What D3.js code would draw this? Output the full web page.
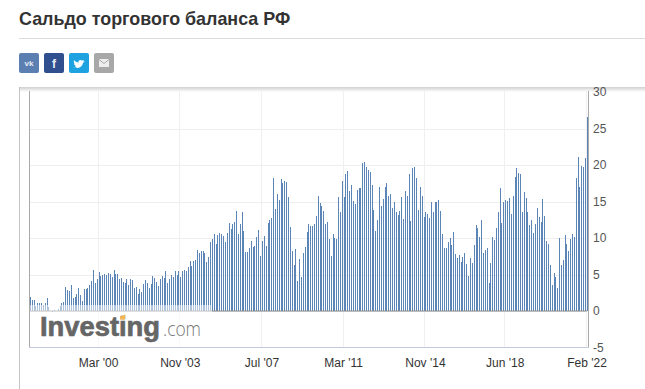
<!DOCTYPE html>
<html>
<head>
<meta charset="utf-8">
<script src="https://cdn.jsdelivr.net/npm/d3@7"></script>
<style>
  html, body { margin: 0; padding: 0; background: #fff; overflow: hidden; }
  svg { display: block; font-family: "Liberation Sans", Arial, sans-serif; }
</style>
</head>
<body>
<svg id="chart" width="645" height="389"></svg>
<script>
const title = 'Сальдо торгового баланса РФ';
const firstMonth = [1997, 1];

// monthly balance, bn USD
const values = [
  1.95, 1.5, 1.5, 0.7, 1.1, 1.1, 1.1, 0.85, 1.05, 1.75, 0.55, -0.05, -0.2, 0.15, 0.02, 0.3, 0.7, 1.05, 1.2, 3.3,
  2.9, 2.7, 3.55, 1.8, 1.9, 2.3, 3.1, 2.2, 1.4, 3.0, 3.0, 3.1, 3.55, 4.1, 5.6, 3.8, 4.4, 5.3, 4.8, 4.9,
  5.05, 4.9, 5.2, 5.05, 4.65, 5.6, 5.05, 5.05, 4.4, 4.5, 3.95, 3.8, 4.4, 3.55, 4.4, 4.2, 3.1, 3.3, 2.3, 3.0,
  2.6, 3.7, 4.2, 3.8, 3.1, 3.7, 4.8, 4.5, 3.95, 3.4, 4.4, 4.8, 4.5, 5.45, 3.8,
  4.4, 4.9, 4.65, 5.5, 4.9, 5.5, 4.65, 5.5, 5.6, 5.5, 6.0, 6.85, 6.15, 6.85, 7.0, 8.35, 7.95, 8.2, 8.2, 7.95,
  6.7, 7.4, 9.45, 9.85, 10.55, 9.2, 10.4, 10.7, 10.55, 10.3, 9.45, 10.7, 12.05, 11.25, 11.9, 12.2, 13.7, 10.55, 11.9, 13.55,
  10.95, 8.1, 8.1, 8.6, 9.6, 8.75, 8.9, 10.15, 11.1, 7.55, 9.6, 10.3, 8.9, 12.05, 12.45, 12.75, 18.2, 14, 16, 15.2,
  18.1, 17.55, 17.8, 17.65, 15.6, 11.5, 8.2, 6.3, 8.5, 4.1, 7.1, 4.65, 7.95, 8.75, 10.8, 11.9, 11.65, 11.65,
  11.9, 13.0, 15.75, 14.8, 14.4, 13.7, 11.9, 12.2, 9.85, 7.55, 10.55, 10, 9.85, 15.55, 13.6, 17.8, 15.6, 18.75, 19.2, 16.4,
  17.25, 15.05, 14.65, 16.6, 16.85, 16.85, 20.3, 20.4, 19.7, 19.3, 19.05, 17.25, 13.85, 10.95, 12.45, 17, 14.4, 15.35, 17, 17.55,
  15.75, 16, 14.1, 14.9, 13.55, 13.15, 13.7, 15.6, 12.6, 16.45, 15.75, 18.75, 12.35, 19.6, 19.7, 18.2, 13.85, 17, 15.75, 12.9,
  13.55, 13.3, 12.75, 14.95, 13.55, 14.95, 14.95, 15.2, 13.7, 10.55, 8.6, 8.6, 9.45, 10, 9.05, 10.8, 7.8, 7.25, 7.65,
  6.7, 7.4, 7.95, 6.45, 4.8, 7.25, 6.6, 9.05, 11.8, 11.35, 10.15, 12.45, 7.95, 8.35, 8.65, 3.85, 6.6, 10.15, 9.7, 11.35,
  13.55, 16.85, 12.05, 14.95, 15.2, 15.05, 15.5, 13.3, 15.75, 18.35, 19.6, 18.9, 18.75, 13.55, 16.3, 15.5, 13.55, 11.8, 12.45, 10.7,
  11.9, 14.1, 12.9, 12.2, 15.35, 13, 9.6, 9.2, 6.3, 3.55, 5.2, 4.65, 3.15, 10, 6.3, 7, 10.4, 9.2, 8.2, 9.85,
  10.55, 10.15, 18.2, 21.1, 17, 19.85, 19.7, 20.95, 26.6
];

const yTicks = [-5, 0, 5, 10, 15, 20, 25, 30];
const xTickDates = [[2000, 2], [2003, 10], [2007, 6], [2011, 2], [2014, 10], [2018, 5], [2022, 1]];
const xTickLabels = ["Mar '00", "Nov '03", "Jul '07", "Mar '11", "Nov '14", "Jun '18", "Feb '22"];

const shareColors = ['#5b7fb1', '#2f4f8e', '#1fa2e0', '#a8a8a8'];

const svg = d3.select('#chart');

const months = values.map(function (d, i) { return new Date(Date.UTC(firstMonth[0], firstMonth[1] + i, 1)); });
const x = d3.scaleUtc().domain([months[0], months[months.length - 1]]).range([30, 587]);
const y = d3.scaleLinear().domain([-5, 30]).range([347.5, 92]);

// page header
svg.append('text')
  .attr('x', 19).attr('y', 25)
  .attr('font-size', 17.9).attr('font-weight', 700).attr('fill', '#333')
  .text(title);

svg.append('line')
  .attr('x1', 19).attr('x2', 645).attr('y1', 38.5).attr('y2', 38.5)
  .attr('stroke', '#ddd');

const share = svg.append('g').attr('transform', 'translate(19,53)');
share.selectAll('rect')
  .data(shareColors)
  .join('rect')
  .attr('x', function (d, i) { return i * 25; })
  .attr('width', 20).attr('height', 20).attr('rx', 2)
  .attr('fill', function (d) { return d; });

share.append('text').attr('x', 10).attr('y', 13).attr('text-anchor', 'middle')
  .attr('font-size', 8).attr('font-weight', 700).attr('fill', '#e8edf5').text('vk');
share.append('text').attr('x', 35).attr('y', 15).attr('text-anchor', 'middle')
  .attr('font-size', 12).attr('font-weight', 700).attr('fill', '#e8edf5').text('f');
share.append('path')
  .attr('transform', 'translate(54,5)')
  .attr('d', 'M0 9c4 2 9 1 10-4l2-2-2 .5L11 2 9 2.500C7 1 5 2.500 5.500 4.500 3.500 4.500 2 3.500 1 2c-.5 1.500 0 3 1 3.500L1 5.300c0 1.300 1 2.400 2 2.700L2 8.100c.4 1 1 1.300 2 1.400C3 10 1.500 10 0 9z')
  .attr('fill', '#fff');
share.append('rect').attr('x', 80).attr('y', 6).attr('width', 10).attr('height', 8).attr('fill', '#eee');
share.append('path').attr('d', 'M80 6.500l5 4 5-4').attr('fill', 'none').attr('stroke', '#a8a8a8');

// chart frame with soft top shadow
const defs = svg.append('defs');
const shadow = defs.append('linearGradient')
  .attr('id', 'topShadow').attr('x1', 0).attr('x2', 0).attr('y1', 0).attr('y2', 1);
shadow.append('stop').attr('offset', 0).attr('stop-color', '#cfcfcf');
shadow.append('stop').attr('offset', 1).attr('stop-color', '#fff');

svg.append('rect').attr('x', 20).attr('y', 87).attr('width', 625).attr('height', 5).attr('fill', 'url(#topShadow)');
svg.append('line').attr('x1', 19.5).attr('x2', 19.5).attr('y1', 87).attr('y2', 389).attr('stroke', '#c4c4c4');

// grid
svg.append('g')
  .selectAll('line')
  .data(yTicks.slice(1, -1))
  .join('line')
  .attr('x1', 30).attr('x2', 587)
  .attr('y1', function (d) { return Math.round(y(d)) + 0.5; })
  .attr('y2', function (d) { return Math.round(y(d)) + 0.5; })
  .attr('stroke', '#eee');

const tickDates = xTickDates.map(function (d) { return new Date(Date.UTC(d[0], d[1], 1)); });
svg.append('g')
  .selectAll('line')
  .data(tickDates)
  .join('line')
  .attr('x1', function (d) { return Math.round(x(d)) - 0.5; })
  .attr('x2', function (d) { return Math.round(x(d)) - 0.5; })
  .attr('y1', 91).attr('y2', 347)
  .attr('stroke', '#f0f0f0');

// bars, snapped to whole pixels so the white gaps stay visible
svg.append('g')
  .attr('shape-rendering', 'crispEdges')
  .selectAll('rect')
  .data(values)
  .join('rect')
  .attr('x', function (d, i) { return Math.round(x(months[i])) - 0.5; })
  .attr('width', 1)
  .attr('y', function (d) { return Math.min(y(d), y(0)); })
  .attr('height', function (d) { return Math.abs(y(d) - y(0)); })
  .attr('fill', '#5a85b6');

svg.append('line')
  .attr('x1', 30).attr('x2', 587).attr('y1', y(0)).attr('y2', y(0))
  .attr('stroke', '#8a8a8a');

// axes
svg.append('line').attr('x1', 29.5).attr('x2', 29.5).attr('y1', 91).attr('y2', 347).attr('stroke', '#aaa');
svg.append('line').attr('x1', 588.5).attr('x2', 588.5).attr('y1', 91).attr('y2', 347).attr('stroke', '#aaa');

// logo sits on a half white box over the bars
svg.append('rect').attr('x', 30).attr('y', 305).attr('width', 182).attr('height', 42)
  .attr('fill', '#fff').attr('fill-opacity', 0.5);

const logo = svg.append('g');
logo.append('text')
  .attr('x', 40).attr('y', 336)
  .attr('font-size', 28).attr('font-weight', 700).attr('fill', '#666')
  .attr('stroke', '#666').attr('stroke-width', 0.7)
  .attr('textLength', 120).attr('lengthAdjust', 'spacingAndGlyphs')
  .text('Investing');
logo.append('text')
  .attr('x', 163).attr('y', 336)
  .attr('font-family', '"Open Sans", sans-serif').attr('font-weight', 300)
  .attr('font-size', 21).attr('fill', '#777')
  .attr('textLength', 38).attr('lengthAdjust', 'spacingAndGlyphs')
  .text('.com');
logo.append('path').attr('d', 'M120.500 316.500l5-2-.5 5h-5z').attr('fill', '#f7b750');

svg.append('line').attr('x1', 29).attr('x2', 589).attr('y1', 347.5).attr('y2', 347.5).attr('stroke', '#c2cbdd');

// tick labels
svg.append('g')
  .selectAll('text')
  .data(yTicks)
  .join('text')
  .attr('x', 593)
  .attr('y', function (d) { return y(d) + 4; })
  .attr('font-size', 12).attr('fill', '#555')
  .text(function (d) { return d; });

svg.append('g')
  .selectAll('text')
  .data(xTickLabels)
  .join('text')
  .attr('x', function (d, i) { return x(tickDates[i]); })
  .attr('y', 367)
  .attr('text-anchor', 'middle')
  .attr('font-size', 12).attr('fill', '#333')
  .text(function (d) { return d; });
</script>
</body>
</html>
